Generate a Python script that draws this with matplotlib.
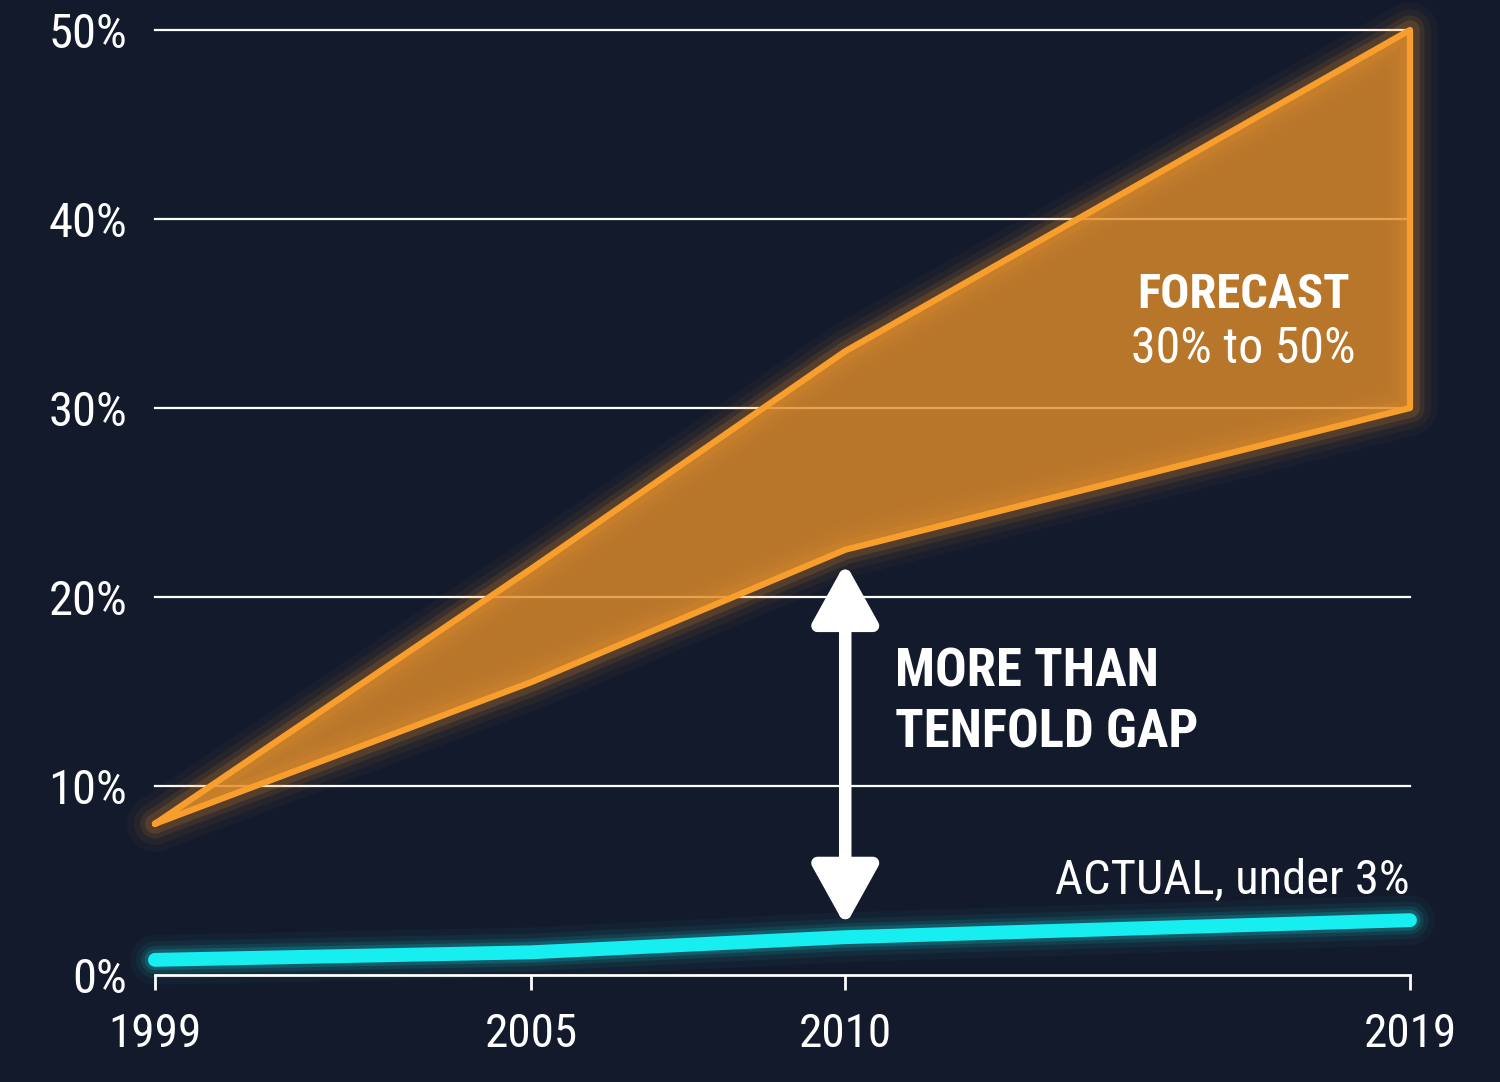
import numpy as np
import matplotlib.pyplot as plt

# data
years = [1999, 2005, 2010, 2019]
forecast_high = [8.0, 21.5, 33.0, 50.0]
forecast_low = [8.0, 15.5, 22.5, 30.0]
actual = [0.8, 1.2, 2.0, 2.9]
y_ticks = [0, 10, 20, 30, 40, 50]
y_labels = ["0%", "10%", "20%", "30%", "40%", "50%"]
x_labels = ["1999", "2005", "2010", "2019"]

bg = "#131a2c"
orange = "#f89e2c"
cyan = "#17eef0"

plt.rcParams['font.family'] = ['Roboto Condensed', 'Liberation Sans Narrow', 'Lato', 'DejaVu Sans']

fig = plt.figure(figsize=(15, 10.82), dpi=100, facecolor=bg)
ax = fig.add_axes([0.1033, 0.0989, 0.8367, 0.8734])
ax.set_facecolor(bg)

# gridlines
for t in y_ticks[1:]:
    ax.axhline(t, color="white", lw=1.6, zorder=1, clip_on=False)

# forecast band with glow
xs = np.array(years, dtype=float)
poly_x = np.concatenate([xs, xs[::-1]])
poly_y = np.concatenate([forecast_high, forecast_low[::-1]])
ring_x = np.append(poly_x, poly_x[0])
ring_y = np.append(poly_y, poly_y[0])
for w, a in [(40, 0.035), (30, 0.06), (21, 0.09), (14, 0.15)]:
    ax.plot(ring_x, ring_y, color=orange, lw=w, alpha=a, solid_joinstyle="round",
            solid_capstyle="round", zorder=2, clip_on=False)
ax.fill(poly_x, poly_y, color="#e38e2b", alpha=0.8, zorder=3, clip_on=False, lw=0)
ax.plot(ring_x, ring_y, color=orange, lw=4.5, solid_joinstyle="round",
        solid_capstyle="round", zorder=4, clip_on=False)

# actual line with glow
for w, a in [(36, 0.035), (27, 0.06), (20, 0.1), (15, 0.16)]:
    ax.plot(years, actual, color=cyan, lw=w, alpha=a, solid_capstyle="round",
            zorder=2, clip_on=False)
ax.plot(years, actual, color=cyan, lw=10, solid_capstyle="round", zorder=5, clip_on=False)

# gap arrow
ax.annotate("", xy=(2010, 21.8), xytext=(2010, 2.6),
            arrowprops=dict(arrowstyle="<|-|>,head_length=1.8,head_width=1.0",
                            color="white", lw=9, mutation_scale=20,
                            shrinkA=0, shrinkB=0), zorder=6)

ax.text(2010.8, 14.4, "MORE THAN\nTENFOLD GAP", color="white", fontsize=38,
        fontweight="bold", ha="left", va="center", linespacing=1.25, zorder=7)
ax.text(2016.35, 35.3, "FORECAST", color="white", fontsize=35,
        fontweight="bold", ha="center", va="baseline", zorder=7)
ax.text(2016.35, 32.4, "30% to 50%", color="white", fontsize=36,
        ha="center", va="baseline", zorder=7)
ax.text(2019, 4.3, "ACTUAL, under 3%", color="white", fontsize=35,
        ha="right", va="baseline", zorder=7)

ax.set_xlim(1999, 2019)
ax.set_ylim(0, 50)
ax.set_xticks(years)
ax.set_xticklabels(x_labels)
ax.set_yticks(y_ticks)
ax.set_yticklabels(y_labels)

for s in ["top", "right", "left"]:
    ax.spines[s].set_visible(False)
ax.spines["bottom"].set_color("white")
ax.spines["bottom"].set_linewidth(2)
ax.tick_params(axis="x", colors="white", length=11, width=2, pad=16, labelsize=34)
ax.tick_params(axis="y", colors="white", length=0, pad=20, labelsize=35)

fig.savefig("out.png", dpi=100, facecolor=bg)
